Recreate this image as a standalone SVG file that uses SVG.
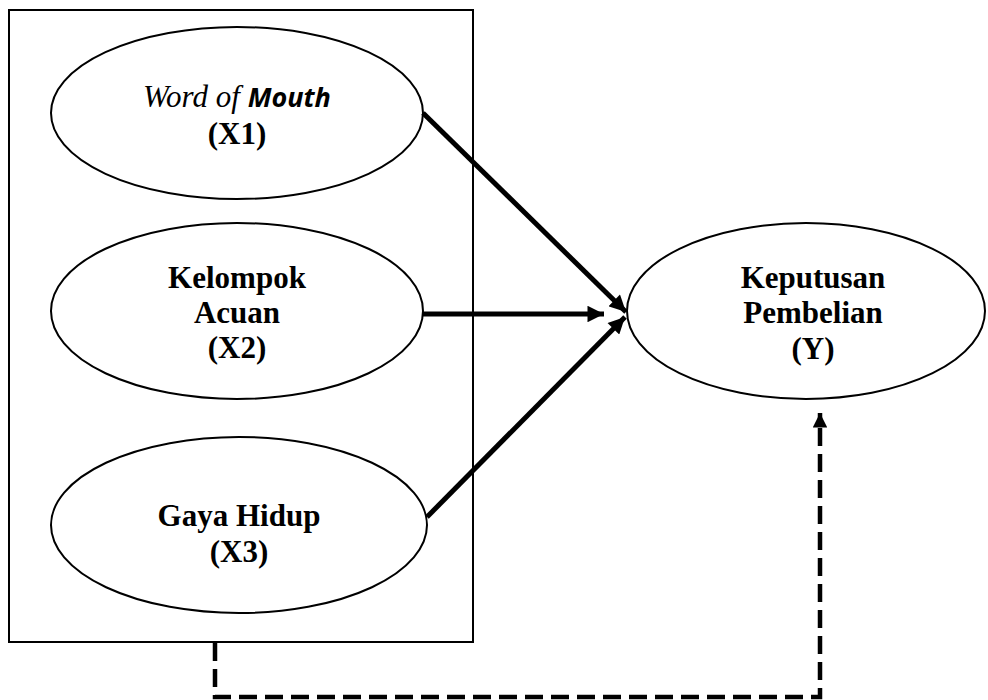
<svg xmlns="http://www.w3.org/2000/svg" width="988" height="700" viewBox="0 0 988 700">
<style>
.node ellipse{fill:#fff;stroke:#000;stroke-width:2}
.lbl{font-family:"Liberation Serif","Times New Roman",serif;font-weight:bold;font-size:31px;text-anchor:middle;fill:#000}
.conn{stroke:#000;stroke-width:5;fill:none}
.dash{stroke:#000;stroke-width:4.5;fill:none;stroke-dasharray:18 8}
</style>
<defs>
<marker id="ah" viewBox="0 0 10 10" refX="10" refY="5" markerWidth="3.5" markerHeight="3.3" markerUnits="strokeWidth" orient="auto">
<path d="M0,0 L10,5 L0,10 z" fill="#000"/>
</marker>
<marker id="ah2" viewBox="0 0 10 10" refX="10" refY="5" markerWidth="4" markerHeight="3.2" markerUnits="strokeWidth" orient="auto">
<path d="M0,0 L10,5 L0,10 z" fill="#000"/>
</marker>
</defs>
<rect x="9" y="10" width="464" height="632" fill="none" stroke="#000" stroke-width="2"/>
<g id="X1" class="node">
<ellipse cx="237" cy="113" rx="186" ry="86"/>
<text class="lbl" x="237" y="107"><tspan font-style="italic" font-weight="normal">Word of </tspan><tspan font-family="'Open Sans',sans-serif" font-style="italic" font-weight="bold" font-size="27">Mouth</tspan></text>
<text class="lbl" x="237" y="144">(X1)</text>
</g>
<g id="X2" class="node">
<ellipse cx="237" cy="311" rx="186" ry="88"/>
<text class="lbl" x="237" y="288">Kelompok</text>
<text class="lbl" x="237" y="323">Acuan</text>
<text class="lbl" x="237" y="358">(X2)</text>
</g>
<g id="X3" class="node">
<ellipse cx="239" cy="525" rx="188" ry="88"/>
<text class="lbl" x="239" y="526">Gaya Hidup</text>
<text class="lbl" x="239" y="562">(X3)</text>
</g>
<g id="Y" class="node">
<ellipse cx="806" cy="311" rx="179" ry="88"/>
<text class="lbl" x="813" y="288">Keputusan</text>
<text class="lbl" x="813" y="323">Pembelian</text>
<text class="lbl" x="813" y="359">(Y)</text>
</g>
<g id="connectors">
<line class="conn" x1="423" y1="113" x2="626" y2="312" marker-end="url(#ah)"/>
<line class="conn" x1="423" y1="314" x2="604" y2="314" marker-end="url(#ah)"/>
<line class="conn" x1="427" y1="517" x2="625" y2="317" marker-end="url(#ah)"/>
<path class="dash" d="M215,643 L215,697 L820,697 L820,413" marker-end="url(#ah2)"/>
</g>
</svg>
